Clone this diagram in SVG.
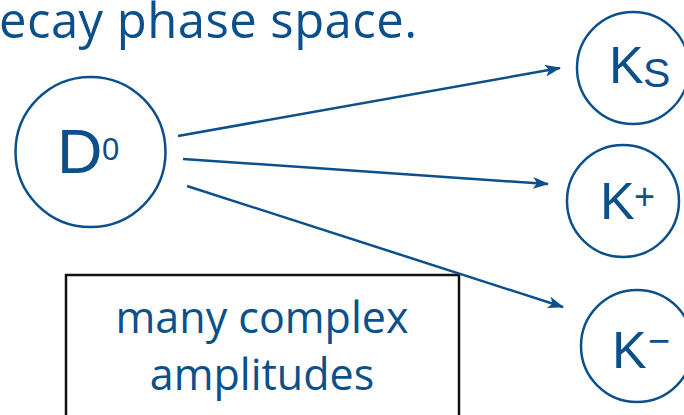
<svg xmlns="http://www.w3.org/2000/svg" width="684" height="415" viewBox="0 0 684 415">
<style>
.node{fill:#fff;stroke:#0b4f8b;stroke-width:2.5}
.lbl{font-family:"Liberation Sans",Arial,sans-serif;fill:#0b4f8b}
.gs{font-family:"Open Sans","Noto Sans",sans-serif;fill:#0b4f8b;font-weight:500}
.edge{stroke:#0b4f8b;stroke-width:2.5;fill:none;marker-end:url(#ah)}
</style>
<defs>
<marker id="ah" viewBox="0 0 16 12" refX="15" refY="6" markerWidth="16" markerHeight="12" markerUnits="userSpaceOnUse" orient="auto">
<path d="M0,0 L16,6 L0,12 L4,6 Z" fill="#0b4f8b"/>
</marker>
</defs>
<rect width="684" height="415" fill="#fff"/>
<text class="gs" x="-1" y="38" font-size="49" textLength="418">ecay phase space.</text>
<g id="box">
<rect x="66" y="275" width="393" height="160" fill="#fff" stroke="#111" stroke-width="2.5"/>
<text class="gs" x="262" y="333" font-size="43" text-anchor="middle">many complex</text>
<text class="gs" x="262" y="390" font-size="43" text-anchor="middle">amplitudes</text>
</g>
<g id="D0">
<circle class="node" cx="90.5" cy="152" r="75"/>
<text class="lbl" x="57" y="173" font-size="63">D</text>
<text class="lbl" x="102" y="160" font-size="31">0</text>
</g>
<g id="KS">
<circle class="node" cx="633" cy="68" r="56"/>
<text class="lbl" x="609" y="83" font-size="52">K</text>
<text class="lbl" x="643" y="87" font-size="41">S</text>
</g>
<g id="Kplus">
<circle class="node" cx="623" cy="201" r="56"/>
<text class="lbl" x="600" y="219" font-size="52">K</text>
<text class="lbl" x="634" y="209" font-size="36">+</text>
</g>
<g id="Kminus">
<circle class="node" cx="637" cy="346" r="56"/>
<text class="lbl" x="612" y="368" font-size="52">K</text>
<text class="lbl" x="648" y="354" font-size="38">−</text>
</g>
<g id="connectors">
<line class="edge" x1="178" y1="136" x2="560" y2="68"/>
<line class="edge" x1="183" y1="159" x2="548" y2="184"/>
<line class="edge" x1="187" y1="186" x2="563" y2="307"/>
</g>
</svg>
